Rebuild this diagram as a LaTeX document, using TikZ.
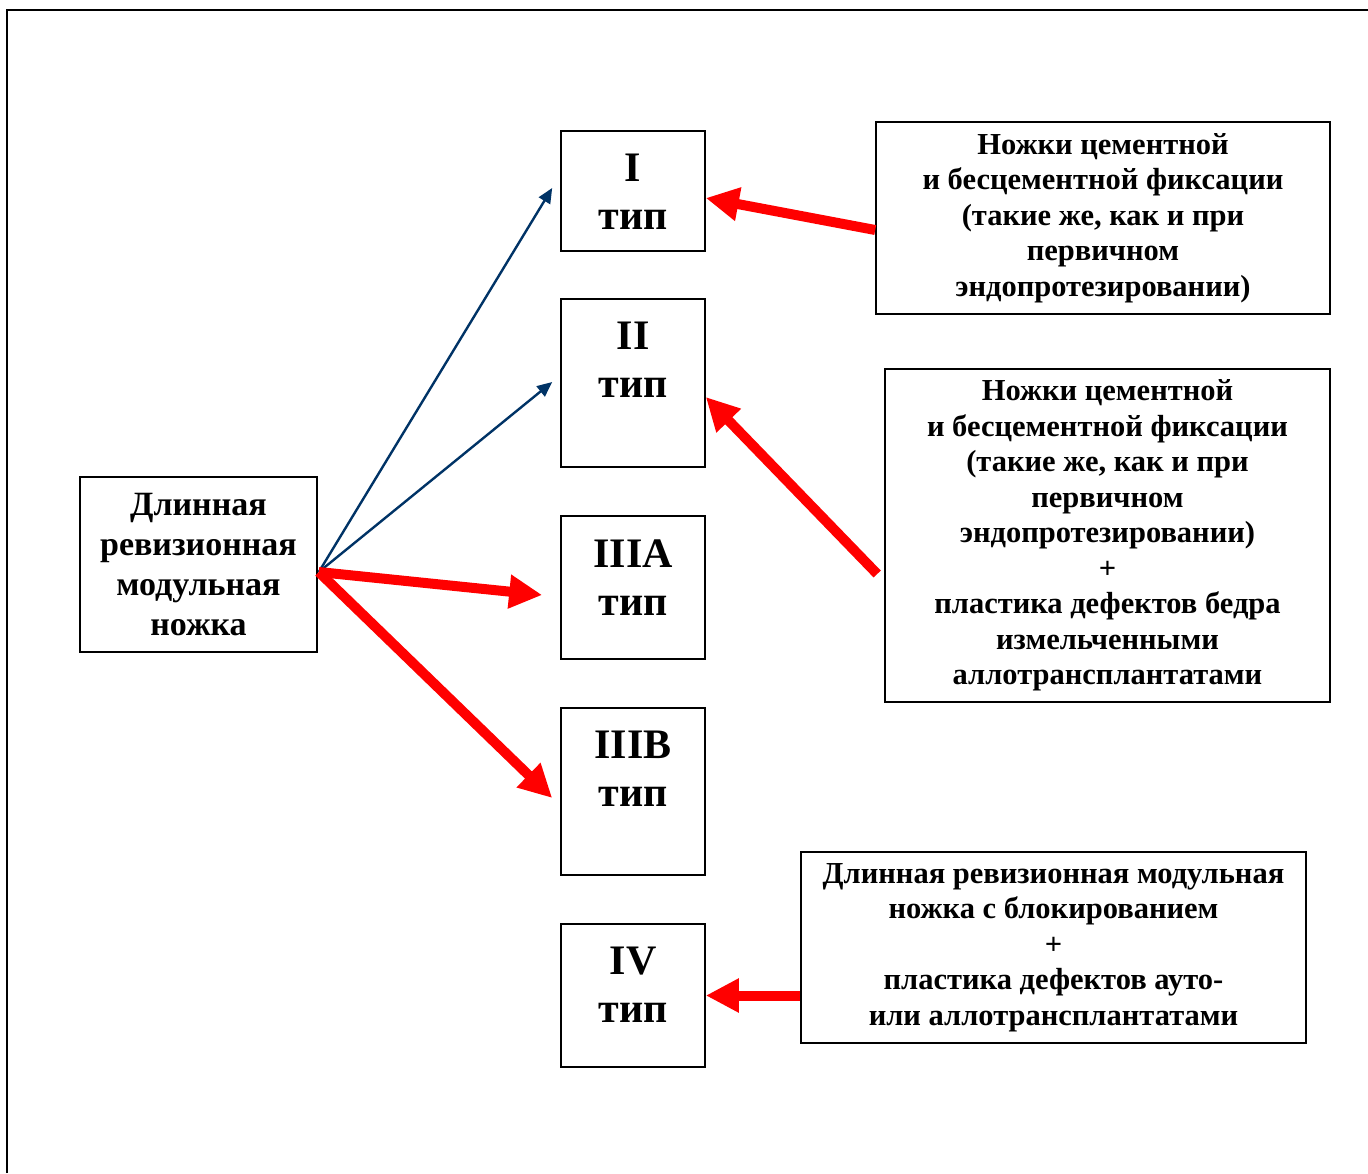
\documentclass[tikz,border=0pt]{standalone}
\usepackage{fontspec}
\setmainfont{Liberation Serif}
\usepackage{pgf,tikz}
\usetikzlibrary{arrows.meta,positioning,calc}
\definecolor{navy}{RGB}{0,51,102}

\begin{document}
\begin{tikzpicture}[x=1pt,y=-1pt,
  box/.style={draw=black, line width=1.6pt, align=center, inner sep=0pt},
  typebox/.style={box, minimum width=144pt},
  typetext/.style={anchor=north, yshift=-24pt, inner sep=0pt, align=center, font=\fontsize{42}{48}\selectfont\bfseries},
  sidefont/.style={font=\fontsize{30.5}{35.5}\selectfont\bfseries},
  bluearrow/.style={draw=navy, line width=2.4pt, -{Triangle[length=15pt,width=13pt]}},
  redarrow/.style={draw=red, line width=10pt, -{Triangle[length=33pt,width=32pt]}}]
\useasboundingbox (0,0) rectangle (1368,1173);
\draw[line width=2.5pt] (7,1173) -- (7,10) -- (1368,10);

% left box
\node[box, minimum width=237pt, minimum height=175pt, font=\fontsize{34}{40}\selectfont\bfseries] (main) at (198.5,564.5) {Длинная\\ревизионная\\модульная\\ножка};

% types
\node[typebox, minimum height=120pt, label={[typetext]north:I\\тип}] (t1) at (633,191) {};
\node[typebox, minimum height=168pt, label={[typetext]north:II\\тип}] (t2) at (633,383) {};
\node[typebox, minimum height=143pt, label={[typetext]north:IIIA\\тип}] (t3) at (633,587.5) {};
\node[typebox, minimum height=167pt, label={[typetext]north:IIIB\\тип}] (t3b) at (633,791.5) {};
\node[typebox, minimum height=143pt, label={[typetext]north:IV\\тип}] (t4) at (633,995.5) {};

% right boxes
\node[box, sidefont, minimum width=454pt, minimum height=192pt] (r1) at (1103,218) {Ножки цементной\\и бесцементной фиксации\\(такие же, как и при\\первичном\\эндопротезировании)};
\node[box, sidefont, minimum width=445pt, minimum height=333pt] (r2) at (1107.5,535.5) {Ножки цементной\\и бесцементной фиксации\\(такие же, как и при\\первичном\\эндопротезировании)\\+\\пластика дефектов бедра\\измельченными\\аллотрансплантатами};
\node[box, sidefont, minimum width=505pt, minimum height=191pt] (r3) at (1053.5,947.5) {Длинная ревизионная модульная\\ножка с блокированием\\+\\пластика дефектов ауто-\\или аллотрансплантатами};

\coordinate (src) at ($(main.east)+(1,7.5)$);

\draw [bluearrow] (src) -- ($(t1.west)+(-8,-3)$);
\draw [bluearrow] (src) -- ($(t2.west)+(-8,-1)$);
\draw [redarrow] (src) -- ($(t3.west)+(-18,7.5)$);
\draw [redarrow] (src) -- ($(t3b.west)+(-8,6.5)$);
\draw [redarrow] ($(r1.west)+(0,12)$) -- ($(t1.east)+(0,7)$);
\draw [redarrow] ($(r2.west)+(-7,38.5)$) -- ($(t2.east)+(0,14)$);
\draw [redarrow] (r3.west |- t4.east) -- (t4.east);
\end{tikzpicture}
\end{document}
